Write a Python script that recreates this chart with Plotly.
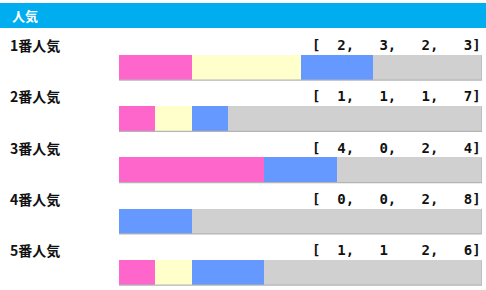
import plotly.graph_objects as go

W, H = 486, 290
categories = ["1番人気", "2番人気", "3番人気", "4番人気", "5番人気"]
first = [2, 1, 4, 0, 1]
second = [3, 1, 0, 0, 1]
third = [2, 1, 2, 2, 2]
other = [3, 7, 4, 8, 6]
bracket_labels = [
    "[  2,   3,   2,   3]",
    "[  1,   1,   1,   7]",
    "[  4,   0,   2,   4]",
    "[  0,   0,   2,   8]",
    "[  1,   1    2,   6]",
]
header = "人気"

colors = ["#FF66CC", "#FFFFCC", "#6699FF", "#D0D0D0"]
idx = list(range(len(categories)))
bw = 0.49

fig = go.Figure()
for vals, c in zip([first, second, third, other], colors):
    fig.add_trace(go.Bar(
        x=vals, y=idx, orientation="h", marker=dict(color=c, line=dict(width=0)),
        width=bw, hoverinfo="skip", showlegend=False,
    ))

top_px, step_px = 67.5, 51.25
y_top = -top_px / step_px
y_bot = (H - top_px) / step_px

fig.update_layout(
    width=W, height=H, margin=dict(l=0, r=0, t=0, b=0),
    paper_bgcolor="white", plot_bgcolor="white", barmode="stack", bargap=0,
    xaxis=dict(domain=[119 / W, 482 / W], range=[0, 10], visible=False, fixedrange=True),
    yaxis=dict(range=[y_bot, y_top], visible=False, fixedrange=True),
    font=dict(family="Noto Sans CJK JP"),
)

# subtle bottom/right edge on each bar
for i in idx:
    total = first[i] + second[i] + third[i] + other[i]
    fig.add_shape(type="line", xref="x", yref="y", x0=0, x1=total, y0=i + bw / 2, y1=i + bw / 2,
                  line=dict(color="#B4B4B4", width=1.2), layer="above")
    fig.add_shape(type="line", xref="x", yref="y", x0=total, x1=total, y0=i - bw / 2, y1=i + bw / 2,
                  line=dict(color="#B4B4B4", width=1.2), layer="above")

# header band
fig.add_shape(type="rect", xref="paper", yref="paper", x0=0, x1=1,
              y0=1 - 28 / H, y1=1 - 3 / H, fillcolor="#00AEEF", line=dict(width=0), layer="below")
fig.add_annotation(text="<b>" + header + "</b>", xref="paper", yref="paper", x=10 / W, y=1 - 15.5 / H,
                   xanchor="left", yanchor="middle", showarrow=False,
                   font=dict(color="white", size=13, family="Noto Sans CJK JP"))

for i, (cat, lab) in enumerate(zip(categories, bracket_labels)):
    yy = i - 22.5 / step_px
    fig.add_annotation(text="<b>" + cat + "</b>", xref="paper", yref="y", x=8 / W, y=yy,
                       xanchor="left", yanchor="middle", showarrow=False,
                       font=dict(color="#111111", size=14, family="Noto Sans CJK JP"))
    fig.add_annotation(text="<b>" + lab.replace(" ", "&nbsp;") + "</b>", xref="paper", yref="y", x=483 / W, y=yy,
                       xanchor="right", yanchor="middle", showarrow=False,
                       font=dict(color="#111111", size=14, family="DejaVu Sans Mono"))

fig.write_html("out.html", config={"displayModeBar": False})
